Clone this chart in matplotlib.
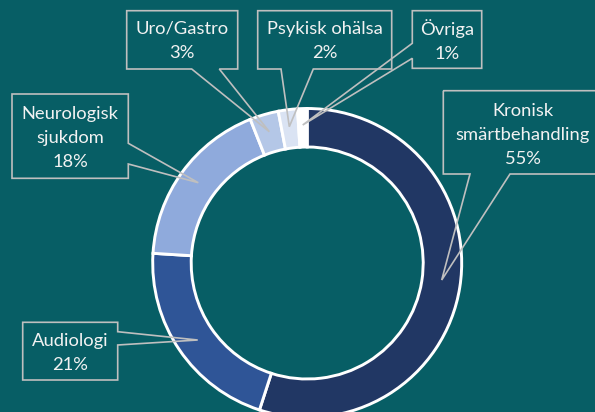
import matplotlib
matplotlib.use("Agg")
import matplotlib.pyplot as plt
from matplotlib.patches import Polygon

# ---- data ----
categories = ["Kronisk\nsmärtbehandling", "Audiologi", "Neurologisk\nsjukdom",
              "Uro/Gastro", "Psykisk ohälsa", "Övriga"]
values = [55, 21, 18, 3, 2, 1]
colors = ["#213764", "#2F5597", "#8FAADC", "#B4C7E7", "#DAE3F3", "#FFFFFF"]

BG = "#075E65"
W, H = 595, 412

plt.rcParams['font.family'] = ['Lato', 'DejaVu Sans']

fig = plt.figure(figsize=(W / 100, H / 100), dpi=100, facecolor=BG)
ax = fig.add_axes([0, 0, 1, 1])
ax.set_facecolor(BG)

cx, cy, R, ring = 307.2, 263, 154.5, 38.5
ax.pie(values, colors=colors, startangle=-90, counterclock=True,
       center=(cx, cy), radius=R,
       wedgeprops=dict(width=ring, edgecolor="white", linewidth=2.1))
ax.set_xlim(0, W)
ax.set_ylim(H, 0)
ax.set_aspect("equal")
ax.axis("off")

# callout layouts: box (x0, y0, x1, y1), side, pointer base (a, b), tip (x, y), text center
layouts = [
    ((443.3, 90.7, 606, 174), "bottom", (470, 510), (441.7, 280), (523, 135)),
    ((22.7, 322.3, 117.7, 380), "right", (331.7, 345), (197.7, 340), (70, 353)),
    ((12, 94, 128.3, 178.3), "right", (143.3, 164), (198.3, 182.7), (70, 138)),
    ((126.7, 10.7, 237.7, 69), "bottom", (191.7, 219.3), (269.3, 131.7), (182.2, 41)),
    ((257.7, 10.7, 391.7, 69), "bottom", (281, 313.3), (289.3, 126.7), (324.7, 41)),
    ((412.3, 10.7, 481.7, 68.3), "left", (43.3, 58.3), (302.7, 125), (447, 41)),
]

for cat, v, (box, side, base, tip, tc) in zip(categories, values, layouts):
    x0, y0, x1, y1 = box
    a, b = base
    if side == "bottom":
        pts = [(x0, y0), (x1, y0), (x1, y1), (b, y1), tip, (a, y1), (x0, y1)]
    elif side == "right":
        pts = [(x0, y0), (x1, y0), (x1, a), tip, (x1, b), (x1, y1), (x0, y1)]
    else:  # left
        pts = [(x0, y0), (x1, y0), (x1, y1), (x0, y1), (x0, b), tip, (x0, a)]
    ax.add_patch(Polygon(pts, closed=True, facecolor="none",
                         edgecolor="#BFBFBF", linewidth=1.2, zorder=5))
    ax.text(tc[0], tc[1], f"{cat}\n{v}%", ha="center", va="center",
            color="#F2F2F2", fontsize=13.2, linespacing=1.62, zorder=6)

fig.savefig("out.png", dpi=100, facecolor=BG)
